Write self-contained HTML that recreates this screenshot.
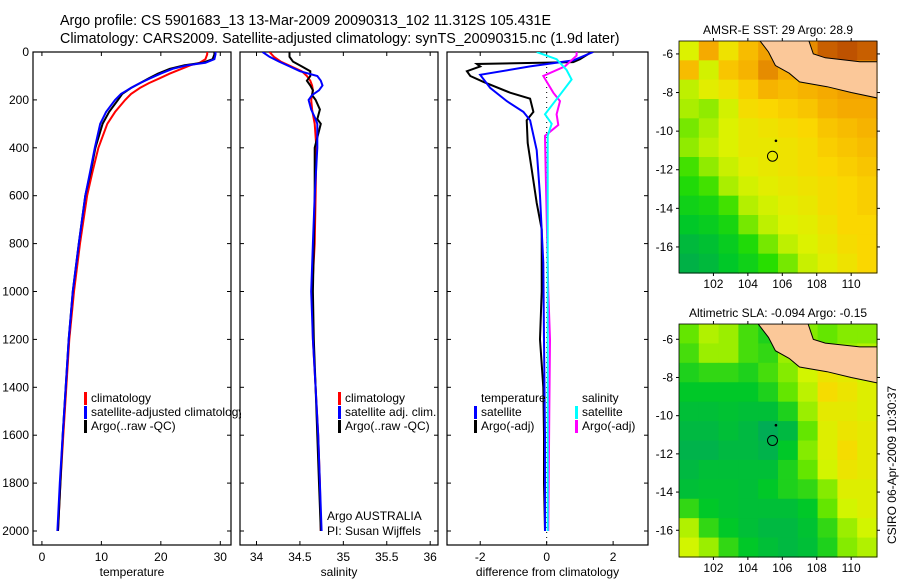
<!DOCTYPE html>
<html><head><meta charset="utf-8"><style>
html,body{margin:0;padding:0;background:#fff}
svg{display:block;font-family:"Liberation Sans",sans-serif}
</style></head><body>
<svg id="c" width="900" height="580" viewBox="0 0 900 580"></svg>
<script>
// ---- data ----
const tDepth=[0,10,30,45,55,70,90,110,130,150,175,200,250,300,400,500,600,800,1000,1200,1400,1600,1800,2000];
const tArgo=[29.0,29.0,28.7,27,24,21.5,19.5,18,16.5,15,13.5,12.8,11.3,10.2,9.0,8.2,7.3,6.2,5.2,4.5,4.0,3.5,3.1,2.7];
const tClim=[27.8,27.8,27.5,26.5,25,23.5,21.5,19.8,18,16.5,15,14,12.3,11.0,9.5,8.5,7.6,6.4,5.4,4.6,4.1,3.6,3.1,2.7];
const tSat=[29.2,29.2,29,27.5,24.5,22,20,18.2,16.5,15,13.3,12.3,10.8,9.8,8.9,8.1,7.3,6.2,5.2,4.5,4.0,3.5,3.0,2.6];
const sDepth=[0,20,40,60,80,100,120,140,160,180,200,240,280,300,400,600,800,1000,1200,1400,1600,1800,2000];
const sArgo=[34.38,34.38,34.42,34.52,34.62,34.62,34.58,34.62,34.65,34.64,34.68,34.73,34.70,34.74,34.67,34.67,34.66,34.65,34.66,34.68,34.70,34.72,34.74];
const sClim=[34.15,34.2,34.28,34.40,34.52,34.58,34.62,34.64,34.65,34.64,34.63,34.64,34.66,34.67,34.69,34.68,34.67,34.64,34.65,34.68,34.71,34.73,34.74];
const sSat=[34.07,34.15,34.26,34.38,34.50,34.70,34.74,34.76,34.72,34.64,34.60,34.63,34.68,34.70,34.70,34.67,34.65,34.63,34.65,34.68,34.71,34.73,34.75];
const dTArgoDepth=[0,30,42,50,60,80,100,125,170,195,250,285,380,490,630,740,880,1000,1200,1400,1600,1800,2000];
const dTArgo=[1.35,1.0,0.8,-2.1,-2.0,-2.4,-2.3,-1.9,-1.1,-0.5,-0.4,-0.6,-0.57,-0.45,-0.3,-0.15,-0.15,-0.15,-0.2,-0.1,-0.08,-0.08,-0.05];
const dTSatDepth=[0,35,60,95,150,205,250,285,410,600,880,1200,1600,2000];
const dTSat=[1.4,0.8,-0.5,-2.0,-1.7,-1.2,-0.7,-0.5,-0.3,-0.2,-0.1,-0.08,-0.05,-0.05];
const dSArgoDepth=[0,15,60,100,170,205,260,305,350,500,1000,1200,1500,2000];
const dSArgo=[0.9,0.9,0.55,-0.1,0.2,0.4,0.3,0.35,-0.05,-0.03,0.05,0.1,0.08,0.05];
const dSSatDepth=[0,30,75,115,170,260,300,350,500,1000,2000];
const dSSat=[-0.3,0.3,0.6,0.75,0.45,-0.05,0.15,0.03,0.03,0.03,0.03];
const depthTicks=[0,200,400,600,800,1000,1200,1400,1600,1800,2000];
const tTicks=[0,10,20,30];
const sTicks=[34,34.5,35,35.5,36];
const sTickLabels=["34","34.5","35","35.5","36"];
const dTicks=[-2,0,2];
const lonTicks=[102,104,106,108,110];
const latTicks=[-6,-8,-10,-12,-14,-16];
const sstGrid=[
[28.5,29.5,28.8,29.3,29.6,29.5,29.8,30.2,30.3,30.2],
[29.3,28.4,29.2,29.4,29.8,29.5,29.6,29.8,29.9,29.8],
[28.2,28.6,28.8,29.1,29.4,29.3,29.4,29.5,29.6,29.6],
[28.0,27.9,28.4,28.9,29.0,29.1,29.2,29.4,29.5,29.5],
[27.8,28.0,28.5,28.7,28.8,28.9,29.0,29.2,29.3,29.4],
[27.9,28.2,28.5,28.7,28.7,28.8,28.9,29.1,29.2,29.3],
[27.6,27.9,28.3,28.6,28.7,28.8,28.9,29.0,29.1,29.2],
[27.4,27.6,28.0,28.4,28.6,28.7,28.8,28.9,29.0,29.1],
[27.2,27.3,27.6,28.1,28.4,28.6,28.7,28.9,29.0,29.1],
[27.0,27.1,27.3,27.8,28.2,28.5,28.6,28.8,29.0,29.0],
[26.8,26.9,27.1,27.4,27.8,28.2,28.5,28.7,28.9,29.0],
[26.7,26.8,27.0,27.2,27.5,27.8,28.3,28.6,28.8,29.0]];
const slaGrid=[
[-0.05,0.02,0.0,-0.08,-0.12,0.0,-0.02,-0.05,-0.02,-0.02],
[-0.08,0.0,0.0,-0.08,-0.1,0.0,0.02,0.0,0.0,0.02],
[-0.12,-0.1,-0.1,-0.12,-0.08,-0.02,0.05,0.12,0.1,0.05],
[-0.15,-0.15,-0.15,-0.15,-0.12,-0.05,0.03,0.15,0.12,0.08],
[-0.18,-0.18,-0.17,-0.18,-0.18,-0.12,0.0,0.1,0.1,0.08],
[-0.2,-0.2,-0.18,-0.2,-0.24,-0.2,-0.05,0.08,0.12,0.1],
[-0.22,-0.22,-0.2,-0.2,-0.22,-0.15,-0.02,0.08,0.15,0.1],
[-0.2,-0.18,-0.18,-0.18,-0.18,-0.12,-0.05,0.05,0.12,0.1],
[-0.18,-0.17,-0.17,-0.18,-0.15,-0.12,-0.1,-0.02,0.08,0.08],
[-0.1,-0.15,-0.17,-0.18,-0.18,-0.18,-0.15,-0.05,0.05,0.08],
[0.02,-0.1,-0.15,-0.18,-0.2,-0.2,-0.17,-0.1,0.0,0.05],
[0.05,0.0,-0.1,-0.15,-0.18,-0.2,-0.18,-0.12,-0.02,0.02]];
const landLon=[104.6,107.5,107.8,108.5,109.5,110.5,111.6,111.6,110.0,108.6,107.0,106.4,105.6,105.2];
const landLat=[-5.2,-5.2,-6.0,-6.2,-6.3,-6.4,-6.4,-8.3,-8.0,-7.7,-7.45,-7.0,-6.6,-5.9];
const floatLon=105.43, floatLat=-11.3;

// ---- helpers ----
const NS="http://www.w3.org/2000/svg";
const svg=document.getElementById('c');
function mk(tag,attrs,parent){const e=document.createElementNS(NS,tag);for(const k in attrs)e.setAttribute(k,attrs[k]);(parent||svg).appendChild(e);return e;}
function txt(s,x,y,attrs,parent){const e=mk('text',Object.assign({x:x,y:y,'font-size':12,fill:'#000'},attrs||{}),parent);e.textContent=s;return e;}
const PT=52,PB=545;
const yD=d=>PT+d*0.2395;
const panels=[
 {name:'temperature',x0:33,x1:231,vmin:-1.5,vmax:31.8},
 {name:'salinity',x0:240,x1:438,vmin:33.81,vmax:36.09},
 {name:'difference',x0:447,x1:648,vmin:-3.0,vmax:3.05}];
function xf(p){return v=>p.x0+(v-p.vmin)/(p.vmax-p.vmin)*(p.x1-p.x0);}

const t1=txt('Argo profile: CS 5901683_13 13-Mar-2009 20090313_102 11.312S 105.431E',60,25,{'font-size':14.3});

const t2=txt('Climatology: CARS2009. Satellite-adjusted climatology: synTS_20090315.nc (1.9d later)',60,43,{'font-size':14.3});


function drawPanel(p,idx,xticks,xlabels,axisTitle){
  const g=mk('g',{});
  
  const X=xf(p);
  const cid='clip'+idx;
  const cp=mk('clipPath',{id:cid});mk('rect',{x:p.x0,y:PT,width:p.x1-p.x0,height:PB-PT},cp);
  const fr=mk('rect',{x:p.x0,y:PT,width:p.x1-p.x0,height:PB-PT,fill:'none',stroke:'#000','stroke-width':1.2},g);
  
  depthTicks.forEach(d=>{
    const y=yD(d);
    mk('line',{x1:p.x0,x2:p.x0+4,y1:y,y2:y,stroke:'#000'},g);
    mk('line',{x1:p.x1-4,x2:p.x1,y1:y,y2:y,stroke:'#000'},g);
    if(idx===0){const l=txt(String(d),p.x0-4,y+4,{'text-anchor':'end'},g);}
  });
  xticks.forEach((v,i)=>{
    const x=X(v);
    mk('line',{x1:x,x2:x,y1:PB,y2:PB-4,stroke:'#000'},g);
    mk('line',{x1:x,x2:x,y1:PT,y2:PT+4,stroke:'#000'},g);
    const l=txt(xlabels[i],x,561,{'text-anchor':'middle'},g);
    
  });
  const at=txt(axisTitle,(p.x0+p.x1)/2,576,{'text-anchor':'middle'},g);
  
  const lg=mk('g',{'clip-path':'url(#'+cid+')'},g);
  return {X:X,lg:lg,g:g};
}
function line(P,depths,vals,color,name){
  const pts=depths.map((d,i)=>P.X(vals[i]).toFixed(1)+','+yD(d).toFixed(1)).join(' ');
  const e=mk('polyline',{points:pts,fill:'none',stroke:color,'stroke-width':2},P.lg);
  
}
function legend(g,x,y,color,label,name){
  if(color){mk('rect',{x:x,y:y-10,width:3,height:13,fill:color},g);}
  const t=txt(label,x+7,y,{},g);
  
}

let P=drawPanel(panels[0],0,tTicks,tTicks.map(String),'temperature');
line(P,tDepth,tClim,'#f00','temperature-climatology-line');
line(P,tDepth,tArgo,'#000','temperature-argo-line');
line(P,tDepth,tSat,'#00f','temperature-satellite-line');
const lc0=mk('clipPath',{id:'lc0'});mk('rect',{x:0,y:0,width:241,height:580},lc0);
const lg0=mk('g',{'clip-path':'url(#lc0)'},P.g);
legend(lg0,84,402,'#f00','climatology','legend-climatology');
legend(lg0,84,416,'#00f','satellite-adjusted climatology','legend-satellite-adjusted');
legend(lg0,84,430,'#000','Argo(..raw -QC)','legend-argo');

P=drawPanel(panels[1],1,sTicks,sTickLabels,'salinity');
line(P,sDepth,sClim,'#f00','salinity-climatology-line');
line(P,sDepth,sArgo,'#000','salinity-argo-line');
line(P,sDepth,sSat,'#00f','salinity-satellite-line');
legend(P.g,338,402,'#f00','climatology','legend-climatology');
legend(P.g,338,416,'#00f','satellite adj. clim.','legend-satellite-adj');
legend(P.g,338,430,'#000','Argo(..raw -QC)','legend-argo');
let tt=txt('Argo AUSTRALIA',327,520,{},P.g);
tt=txt('PI: Susan Wijffels',327,535,{},P.g);

P=drawPanel(panels[2],2,dTicks,dTicks.map(String),'difference from climatology');
const zl=mk('line',{x1:P.X(0),x2:P.X(0),y1:yD(0),y2:PB,stroke:'#000','stroke-dasharray':'1,4'},P.lg);

line(P,dTArgoDepth,dTArgo,'#000','temperature-diff-argo-line');
line(P,dTSatDepth,dTSat,'#00f','temperature-diff-satellite-line');
line(P,dSArgoDepth,dSArgo,'#f0f','salinity-diff-argo-line');
line(P,dSSatDepth,dSSat,'#0ff','salinity-diff-satellite-line');
legend(P.g,474,402,null,'temperature','legend-temperature-heading');
legend(P.g,474,416,'#00f','satellite','legend-temp-satellite');
legend(P.g,474,430,'#000','Argo(-adj)','legend-temp-argo');
legend(P.g,575,402,null,'salinity','legend-salinity-heading');
legend(P.g,575,416,'#0ff','satellite','legend-sal-satellite');
legend(P.g,575,430,'#f0f','Argo(-adj)','legend-sal-argo');

function lerpColor(stops,v){
  if(v<=stops[0][0])return stops[0][1];
  for(let i=1;i<stops.length;i++){if(v<=stops[i][0]){const a=stops[i-1],b=stops[i],t=(v-a[0])/(b[0]-a[0]);
    return a[1].map((c,k)=>Math.round(c+(b[1][k]-c)*t));}}
  return stops[stops.length-1][1];
}
const sstStops=[[26.6,[0,170,80]],[27.0,[0,200,40]],[27.5,[40,222,0]],[28.0,[170,238,0]],[28.5,[220,242,0]],[29.0,[250,215,0]],[29.5,[245,170,0]],[30.0,[220,120,0]],[30.4,[180,70,0]]];
const slaStops=[[-0.25,[0,170,90]],[-0.15,[0,200,40]],[-0.05,[100,230,0]],[0.05,[210,245,0]],[0.15,[245,220,0]],[0.22,[245,190,0]]];
function drawMap(m){
  const g=mk('g',{});
  const LX=lon=>m.x0+(lon-m.lon0)/(m.lon1-m.lon0)*(m.x1-m.x0);
  const LY=lat=>m.y0+(m.lat0-lat)/(m.lat0-m.lat1)*(m.y1-m.y0);
  const rows=m.grid.length,cols=m.grid[0].length;
  const cw=(m.x1-m.x0)/cols,ch=(m.y1-m.y0)/rows;
  m.grid.forEach((row,r)=>row.forEach((v,c)=>{
    const col=lerpColor(m.stops,v);
    const cell=mk('rect',{x:(m.x0+c*cw).toFixed(2),y:(m.y0+r*ch).toFixed(2),width:(cw+0.6).toFixed(2),height:(ch+0.6).toFixed(2),fill:'rgb('+col.join(',')+')'},g);
    
  }));
  const cpid='mc'+m.name;
  const cp=mk('clipPath',{id:cpid});mk('rect',{x:m.x0,y:m.y0,width:m.x1-m.x0,height:m.y1-m.y0},cp);
  const land=mk('polygon',{points:landLon.map((l,i)=>LX(l).toFixed(1)+','+LY(landLat[i]).toFixed(1)).join(' '),fill:'#fbc899',stroke:'#000','stroke-width':1,'clip-path':'url(#'+cpid+')'},g);
  
  const fc=mk('circle',{cx:LX(floatLon),cy:LY(floatLat),r:5,fill:'none',stroke:'#000','stroke-width':1},g);
  
  mk('circle',{cx:LX(floatLon+0.2),cy:LY(floatLat+0.8),r:1.3,fill:'#000'},g);
  mk('rect',{x:m.x0,y:m.y0,width:m.x1-m.x0,height:m.y1-m.y0,fill:'none',stroke:'#000','stroke-width':0.8},g);
  lonTicks.forEach(l=>{const x=LX(l);mk('line',{x1:x,x2:x,y1:m.y1,y2:m.y1+3,stroke:'#000'},g);mk('line',{x1:x,x2:x,y1:m.y0,y2:m.y0-3,stroke:'#000'},g);
    const t=txt(String(l),x,m.y1+15,{'text-anchor':'middle'},g);});
  latTicks.forEach(l=>{const y=LY(l);mk('line',{x1:m.x0-3,x2:m.x0,y1:y,y2:y,stroke:'#000'},g);mk('line',{x1:m.x1,x2:m.x1+3,y1:y,y2:y,stroke:'#000'},g);
    const t=txt(String(l),m.x0-6,y+4,{'text-anchor':'end'},g);});
  const ti=txt(m.title,(m.x0+m.x1)/2,m.y0-7,{'text-anchor':'middle'},g);
  
}
drawMap({name:'sst-map',x0:679,x1:877,y0:41,y1:273,lon0:100.0,lon1:111.5,lat0:-5.33,lat1:-17.35,grid:sstGrid,stops:sstStops,title:'AMSR-E SST: 29 Argo: 28.9'});
drawMap({name:'sla-map',x0:679,x1:877,y0:324,y1:557,lon0:100.0,lon1:111.5,lat0:-5.2,lat1:-17.4,grid:slaGrid,stops:slaStops,title:'Altimetric SLA: -0.094 Argo: -0.15'});
const cs=txt('CSIRO 06-Apr-2009 10:30:37',0,0,{'text-anchor':'middle',transform:'translate(896,465) rotate(-90)'});

</script>
</body></html>
